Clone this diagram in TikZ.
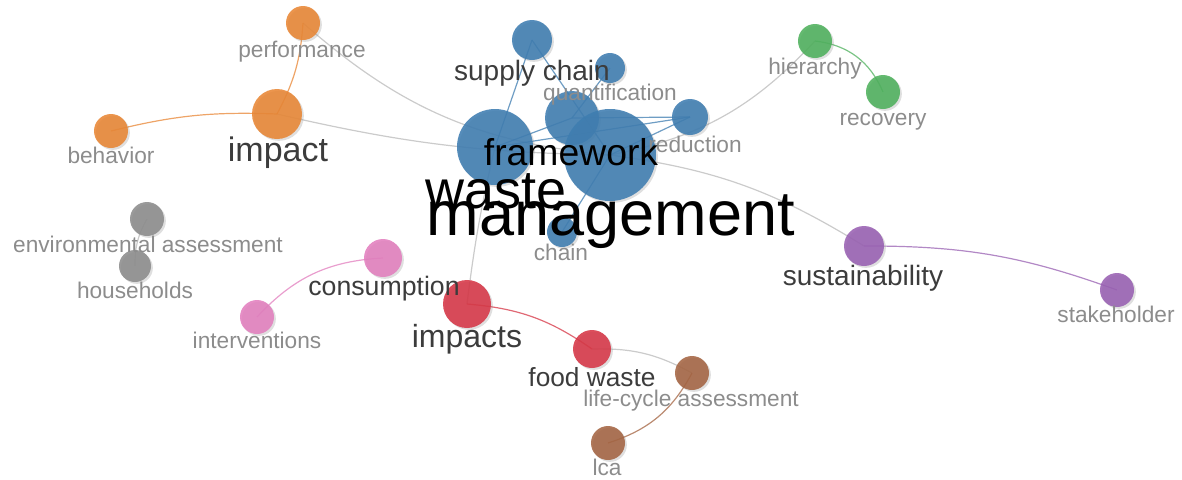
\documentclass[tikz,border=0pt]{standalone}
\usepackage{fontspec}
\setmainfont{Liberation Sans}
\usetikzlibrary{shadows,backgrounds}

\definecolor{vblue}{RGB}{62,124,176}
\definecolor{vorange}{RGB}{232,134,52}
\definecolor{vgreen}{RGB}{78,176,92}
\definecolor{vpurple}{RGB}{152,96,178}
\definecolor{vgray}{RGB}{140,140,140}
\definecolor{vpink}{RGB}{226,126,190}
\definecolor{vred}{RGB}{214,54,70}
\definecolor{vbrown}{RGB}{164,100,66}
\definecolor{lnkgray}{RGB}{185,185,185}
\definecolor{txtlight}{RGB}{140,140,140}
\definecolor{txtdark}{RGB}{60,60,60}

\tikzset{
  kw/.style n args={2}{circle, inner sep=0pt, fill=#1, fill opacity=0.88, minimum size=#2*1.5pt,
    drop shadow={shadow xshift=1.4pt, shadow yshift=-1.4pt, opacity=0.25}},
  lnk/.style={line width=0.9pt, draw opacity=0.75},
  lblsmall/.style={anchor=base, inner sep=0pt, text=txtlight, font=\fontsize{17}{20}\selectfont},
  lblmid/.style={anchor=base, inner sep=0pt, text=txtdark, font=\fontsize{#1}{#1}\selectfont},
  lblbig/.style={anchor=base, inner sep=0pt, text=black, font=\fontsize{#1}{#1}\selectfont},
}

\begin{document}
\begin{tikzpicture}[x=0.75pt,y=0.75pt,yscale=-1,xscale=1]
\useasboundingbox (0,0) rectangle (1182,479);

%Shape: Circles, blue cluster
\node [kw={vblue}{20}] (sc) at (532,40) {};
\node [kw={vblue}{15}] (qt) at (610,68) {};
\node [kw={vblue}{38}] (ws) at (495,147) {};
\node [kw={vblue}{27}] (fw) at (572,118) {};
\node [kw={vblue}{46}] (wm) at (610,155) {};
\node [kw={vblue}{18}] (rd) at (690,117) {};
\node [kw={vblue}{15}] (ch) at (562,232) {};
%Shape: Circles, orange cluster
\node [kw={vorange}{17}] (pf) at (303,23) {};
\node [kw={vorange}{25}] (im) at (277,114) {};
\node [kw={vorange}{17}] (bh) at (111,131) {};
%Shape: Circles, green cluster
\node [kw={vgreen}{17}] (hr) at (815,41) {};
\node [kw={vgreen}{17}] (rc) at (883,92) {};
%Shape: Circles, purple cluster
\node [kw={vpurple}{20}] (su) at (864,246) {};
\node [kw={vpurple}{17}] (sk) at (1117,290) {};
%Shape: Circles, gray cluster
\node [kw={vgray}{17}] (ea) at (147,219) {};
\node [kw={vgray}{16}] (hh) at (135,266) {};
%Shape: Circles, pink cluster
\node [kw={vpink}{19}] (cs) at (383,258) {};
\node [kw={vpink}{17}] (iv) at (257,317) {};
%Shape: Circles, red cluster
\node [kw={vred}{24}] (ims) at (467,304) {};
\node [kw={vred}{19}] (fd) at (592,349) {};
%Shape: Circles, brown cluster
\node [kw={vbrown}{17}] (lc) at (692,373) {};
\node [kw={vbrown}{17}] (lca) at (608,443) {};

%Curve Lines (yscale=-1 flips bend sides)
\begin{scope}[on background layer]
\draw [lnk, lnkgray] (pf.center) to [bend left=18] (wm.center);
\draw [lnk, lnkgray] (im.center) to [bend left=6] (wm.center);
\draw [lnk, lnkgray] (hr.center) to [bend right=18] (wm.center);
\draw [lnk, lnkgray] (wm.center) to [bend right=12] (su.center);
\draw [lnk, lnkgray] (ims.center) to [bend right=3] (ws.center);
\draw [lnk, lnkgray] (fd.center) to [bend right=15] (lc.center);
\draw [lnk, lnkgray] (ea.center) to [bend left=15] (hh.center);
\draw [lnk, vorange] (bh.center) to [bend right=8] (im.center);
\draw [lnk, vorange] (im.center) to [bend left=12] (pf.center);
\draw [lnk, vgreen] (hr.center) to [bend right=30] (rc.center);
\draw [lnk, vpurple] (su.center) to [bend right=10] (sk.center);
\draw [lnk, vpink] (cs.center) to [bend left=22] (iv.center);
\draw [lnk, vred] (ims.center) to [bend right=15] (fd.center);
\draw [lnk, vbrown] (lc.center) to [bend right=22] (lca.center);
\draw [lnk, vblue] (sc.center) -- (ws.center);
\draw [lnk, vblue] (sc.center) -- (wm.center);
\draw [lnk, vblue] (qt.center) -- (fw.center);
\draw [lnk, vblue] (fw.center) -- (rd.center);
\draw [lnk, vblue] (ws.center) -- (rd.center);
\draw [lnk, vblue] (wm.center) -- (rd.center);
\draw [lnk, vblue] (ws.center) -- (fw.center);
\draw [lnk, vblue] (wm.center) -- (ch.center);
\end{scope}

% Text Node
\node [lblmid=21] (sc-t) at (532,80) {supply chain};
\node [lblsmall] (qt-t) at (610,100) {quantification};
\node [lblsmall] (rd-t) at (695,152) {reduction};
\node [lblbig=28] (fw-t) at (571,165) {framework};
\node [lblbig=40.5] (ws-t) at (496,208) {waste};
\node [lblbig=47.3] (wm-t) at (611,235) {management};
\node [lblsmall] (ch-t) at (561,260) {chain};
\node [lblsmall] (pf-t) at (302,57) {performance};
\node [lblmid=25.5] (im-t) at (278,161) {impact};
\node [lblsmall] (bh-t) at (111,163) {behavior};
\node [lblsmall] (hr-t) at (815,74) {hierarchy};
\node [lblsmall] (rc-t) at (883,125) {recovery};
\node [lblmid=21] (su-t) at (863,285) {sustainability};
\node [lblsmall] (sk-t) at (1116,322) {stakeholder};
\node [lblsmall] (ea-t) at (148,252) {environmental assessment};
\node [lblsmall] (hh-t) at (135,298) {households};
\node [lblmid=20] (cs-t) at (384,295) {consumption};
\node [lblsmall] (iv-t) at (257,348) {interventions};
\node [lblmid=24] (ims-t) at (467,347) {impacts};
\node [lblmid=19.7] (fd-t) at (592,386) {food waste};
\node [lblsmall] (lc-t) at (691,406) {life-cycle assessment};
\node [lblsmall] (lca-t) at (607,475) {lca};

\end{tikzpicture}
\end{document}
